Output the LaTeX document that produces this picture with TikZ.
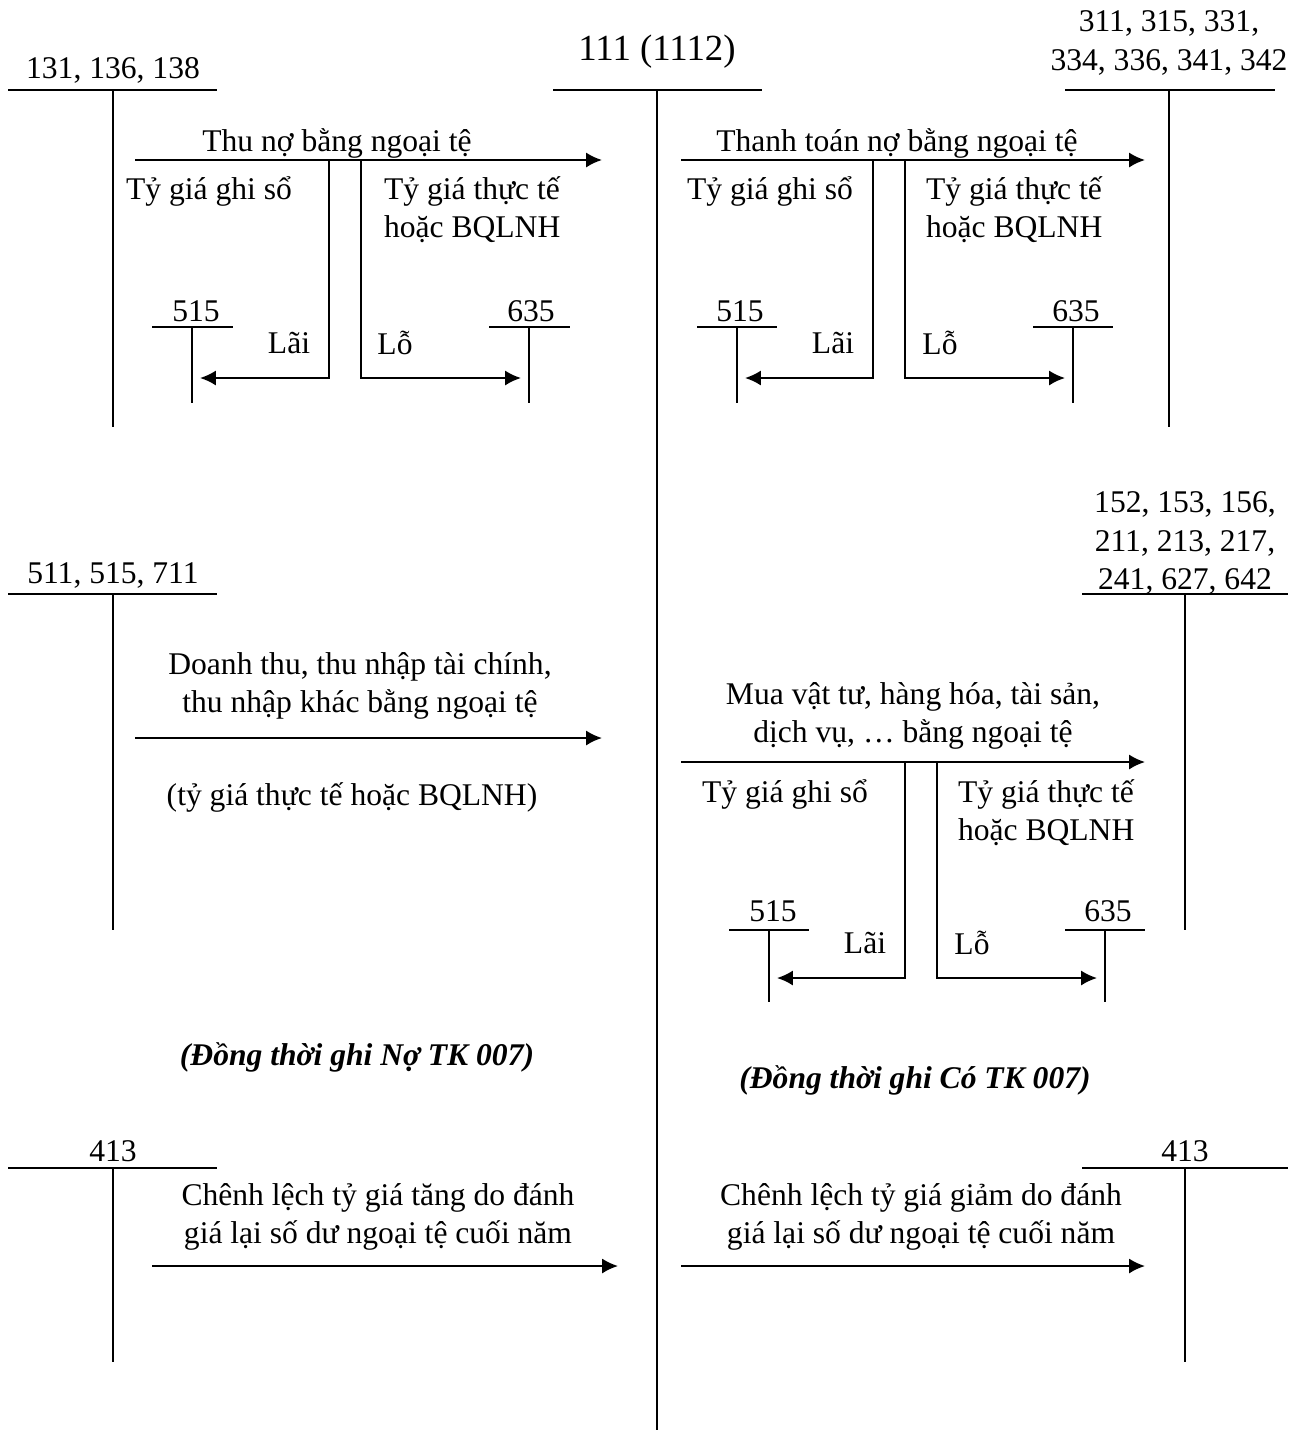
\documentclass[tikz,border=0pt]{standalone}
\usepackage{fontspec}
\setmainfont{Liberation Serif}
\usetikzlibrary{arrows.meta,positioning}

\begin{document}
\begin{tikzpicture}[
  x=0.38pt, y=-0.38pt,
  font=\fontsize{12}{14.5}\selectfont,
  line width=0.8pt,
  txt/.style={inner sep=0pt},
  big/.style={inner sep=0pt, font=\fontsize{14}{17}\selectfont},
  note/.style={inner sep=0pt, font=\fontsize{12}{14.5}\selectfont\bfseries\itshape},
  flow/.style={-{Latex[length=6pt,width=5.7pt]}}
]
\useasboundingbox (0,0) rectangle (1307,1430);

% tai khoan 111
\node[big] (k111) at (657,52) {111 (1112)};
\draw (553,90) -- (762,90);
\draw (657,90) -- (657,1430);

% tai khoan phai thu
\node[txt] (k131) at (113,70) {131, 136, 138};
\draw (8,90) -- (217,90);
\draw (113,90) -- (113,427);

% tai khoan phai tra
\node[txt,align=center] (k311) at (1169,43) {311, 315, 331,\\334, 336, 341, 342};
\draw (1065,90) -- (1275,90);
\draw (1169,90) -- (1169,427);

% thu no bang ngoai te
\coordinate (aS) at (135,160); \coordinate (aE) at (602,160);
\draw[flow] (aS) -- (aE);
\node[txt] (aT) at (337,143) {Thu nợ bằng ngoại tệ};
\coordinate (aL) at (329,160); \coordinate (aL2) at (200,378);
\coordinate (aR) at (361,160); \coordinate (aR2) at (521,378);
\draw[flow] (aL) |- (aL2);
\draw[flow] (aR) |- (aR2);
\node[txt,anchor=west] (aG) at (125,191) {Tỷ giá ghi sổ};
\node[txt,anchor=west,align=left] (aF) at (383,210) {Tỷ giá thực tế\\hoặc BQLNH};
\node[txt] (aLai) at (289,343) {Lãi};
\node[txt] (aLo) at (395,343) {Lỗ};
\node[txt] (a515) at (196,311) {515};
\draw (152,327) -- (233,327); \draw (192,327) -- (192,403);
\node[txt] (a635) at (531,311) {635};
\draw (489,327) -- (570,327); \draw (529,327) -- (529,403);

% thanh toan no bang ngoai te
\coordinate (bS) at (681,160); \coordinate (bE) at (1145,160);
\draw[flow] (bS) -- (bE);
\node[txt] (bT) at (897,143) {Thanh toán nợ bằng ngoại tệ};
\coordinate (bL) at (873,160); \coordinate (bL2) at (745,378);
\coordinate (bR) at (905,160); \coordinate (bR2) at (1065,378);
\draw[flow] (bL) |- (bL2);
\draw[flow] (bR) |- (bR2);
\node[txt,anchor=west] (bG) at (686,191) {Tỷ giá ghi sổ};
\node[txt,anchor=west,align=left] (bF) at (925,210) {Tỷ giá thực tế\\hoặc BQLNH};
\node[txt] (bLai) at (833,343) {Lãi};
\node[txt] (bLo) at (940,343) {Lỗ};
\node[txt] (b515) at (740,311) {515};
\draw (697,327) -- (777,327); \draw (737,327) -- (737,403);
\node[txt] (b635) at (1076,311) {635};
\draw (1033,327) -- (1113,327); \draw (1073,327) -- (1073,403);

% doanh thu
\node[txt] (k511) at (113,575) {511, 515, 711};
\draw (8,594) -- (217,594);
\draw (113,594) -- (113,930);
\coordinate (cS) at (135,738); \coordinate (cE) at (602,738);
\draw[flow] (cS) -- (cE);
\node[txt,align=center] (cT) at (360,686) {Doanh thu, thu nhập tài chính,\\thu nhập khác bằng ngoại tệ};
\node[txt] (cN) at (352,797) {(tỷ giá thực tế hoặc BQLNH)};

% mua vat tu
\node[txt,align=center] (k152) at (1185,543) {152, 153, 156,\\211, 213, 217,\\241, 627, 642};
\draw (1082,594) -- (1288,594);
\draw (1185,594) -- (1185,930);
\coordinate (dS) at (681,762); \coordinate (dE) at (1145,762);
\draw[flow] (dS) -- (dE);
\node[txt,align=center] (dT) at (913,716) {Mua vật tư, hàng hóa, tài sản,\\dịch vụ, … bằng ngoại tệ};
\coordinate (dL) at (905,762); \coordinate (dL2) at (777,978);
\coordinate (dR) at (937,762); \coordinate (dR2) at (1097,978);
\draw[flow] (dL) |- (dL2);
\draw[flow] (dR) |- (dR2);
\node[txt,anchor=west] (dG) at (701,794) {Tỷ giá ghi sổ};
\node[txt,anchor=west,align=left] (dF) at (957,813) {Tỷ giá thực tế\\hoặc BQLNH};
\node[txt] (dLai) at (865,943) {Lãi};
\node[txt] (dLo) at (972,943) {Lỗ};
\node[txt] (d515) at (773,911) {515};
\draw (729,930) -- (809,930); \draw (769,930) -- (769,1002);
\node[txt] (d635) at (1108,911) {635};
\draw (1065,930) -- (1145,930); \draw (1105,930) -- (1105,1002);

% ghi chu 007
\node[note] (n007a) at (357,1057) {(Đồng thời ghi Nợ TK 007)};
\node[note] (n007b) at (915,1080) {(Đồng thời ghi Có TK 007)};

% chenh lech ty gia
\node[txt] (k413a) at (113,1151) {413};
\draw (8,1168) -- (217,1168);
\draw (113,1168) -- (113,1362);
\coordinate (eS) at (152,1266); \coordinate (eE) at (618,1266);
\draw[flow] (eS) -- (eE);
\node[txt,align=center] (eT) at (378,1217) {Chênh lệch tỷ giá tăng do đánh\\giá lại số dư ngoại tệ cuối năm};

\node[txt] (k413b) at (1185,1151) {413};
\draw (1082,1168) -- (1288,1168);
\draw (1185,1168) -- (1185,1362);
\coordinate (fS) at (681,1266); \coordinate (fE) at (1145,1266);
\draw[flow] (fS) -- (fE);
\node[txt,align=center] (fT) at (921,1217) {Chênh lệch tỷ giá giảm do đánh\\giá lại số dư ngoại tệ cuối năm};
\end{tikzpicture}
\end{document}
